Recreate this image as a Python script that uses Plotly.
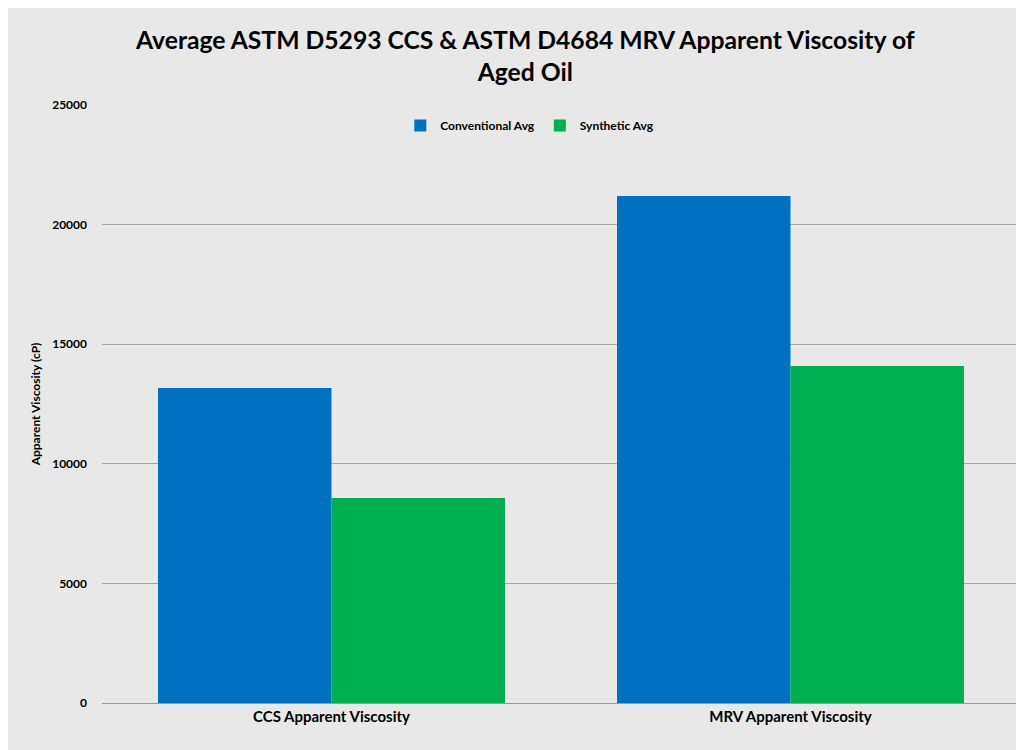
import plotly.graph_objects as go

categories = ["CCS Apparent Viscosity", "MRV Apparent Viscosity"]
conventional_avg = [13170, 21200]
synthetic_avg = [8570, 14090]
y_ticks = [0, 5000, 10000, 15000, 20000, 25000]
title_text = "Average ASTM D5293 CCS & ASTM D4684 MRV Apparent Viscosity of<br>Aged Oil"

font_family = "Lato, Arial, sans-serif"

fig = go.Figure()
fig.add_trace(go.Bar(name="<b>Conventional Avg</b>", x=categories, y=conventional_avg,
                     marker=dict(color="#0070C0", line=dict(width=0))))
fig.add_trace(go.Bar(name="<b>Synthetic Avg</b>", x=categories, y=synthetic_avg,
                     marker=dict(color="#00B050", line=dict(width=0))))

fig.update_layout(
    width=1016, height=742,
    barmode="group", bargap=0.244, bargroupgap=0,
    paper_bgcolor="#e8e8e8", plot_bgcolor="rgba(0,0,0,0)",
    margin=dict(l=94, r=4, t=97, b=47, autoexpand=False),
    legend=dict(orientation="h", x=0.466, xanchor="center", y=0.99, yanchor="top",
                font=dict(family=font_family, size=12, color="#000000"),
                bgcolor="rgba(0,0,0,0)", itemwidth=30, traceorder="normal"),
    font=dict(family=font_family, color="#000000"),
    xaxis=dict(tickfont=dict(family=font_family, size=15, color="#000000"),
               showline=True, linecolor="#999999", linewidth=1, ticks="",
               automargin=False),
    yaxis=dict(range=[0, 25000], tickvals=y_ticks, ticktext=[f"<b>{v}</b>" for v in y_ticks],
               tickfont=dict(family=font_family, size=12, color="#000000"),
               showgrid=True, gridcolor="#a6a6a6", gridwidth=1, zeroline=False,
               title=dict(text="<b>Apparent Viscosity (cP)</b>", standoff=8,
                          font=dict(family=font_family, size=12, color="#000000")),
               ticklabelstandoff=14, automargin=False),
    annotations=[dict(text=f"<b>{title_text}</b>", xref="paper", yref="paper",
                      x=0.4608, xanchor="center", y=(703 - 55) / 598, yanchor="middle",
                      showarrow=False, align="center",
                      font=dict(family=font_family, size=24.7, color="#000000"))],
)
fig.update_xaxes(ticktext=[f"<b>{c}</b>" for c in categories], tickvals=categories)

fig.write_html("out.html")
